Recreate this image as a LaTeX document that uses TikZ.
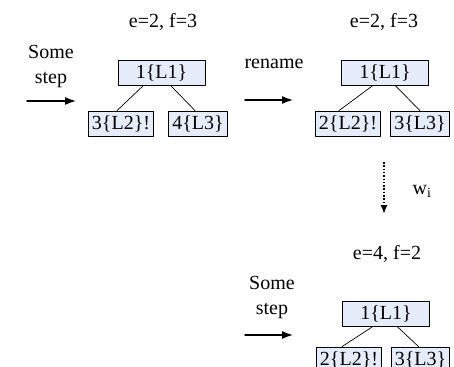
\documentclass[tikz,border=0pt]{standalone}
\usepackage{fontspec}
\setmainfont{Liberation Serif}
\usetikzlibrary{arrows.meta}
\definecolor{boxfill}{RGB}{230,236,249}
\begin{document}
\begin{tikzpicture}[x=1pt,y=-1pt,line cap=round,line join=round,
  font=\fontsize{20}{25}\selectfont,
  root/.style={draw,fill=boxfill,line width=0.8pt,minimum width=87pt,minimum height=25pt,inner sep=0pt},
  leaf/.style={draw,fill=boxfill,line width=0.8pt,minimum height=25pt,inner xsep=3.5pt,inner ysep=0pt},
  edge/.style={line width=0.7pt},
  stepto/.style={line width=1.5pt,-{Latex[length=11pt,width=8pt]}}]
  \useasboundingbox (0,0) rectangle (454,366);
  % first tree
  \node (t1) at (163,22) {e=2, f=3};
  \node[root] (r1) at (161.5,72.5) {1\{L1\}};
  \node[leaf] (a1) at (121,123.5) {3\{L2\}!};
  \node[leaf] (b1) at (198,123.5) {4\{L3\}};
  \draw[edge] ([xshift=-18pt]r1.south) -- ([xshift=-4pt]a1.north);
  \draw[edge] ([xshift=9pt]r1.south) -- ([xshift=-3pt]b1.north);
  \node[align=center] (s1) at (51,67) {Some\\step};
  \coordinate (p1) at (27,101);
  \coordinate (q1) at (76,101);
  \draw[stepto] (p1) -- (q1);
  % after renaming
  \node (t2) at (384,22) {e=2, f=3};
  \node[root] (r2) at (385,72.5) {1\{L1\}};
  \node[leaf] (a2) at (348,123.5) {2\{L2\}!};
  \node[leaf] (b2) at (420,123.5) {3\{L3\}};
  \draw[edge] ([xshift=-12pt]r2.south) -- ([xshift=-9pt]a2.north);
  \draw[edge] ([xshift=10pt]r2.south) -- (b2.north);
  \node (s2) at (274,64) {rename};
  \coordinate (p2) at (245,100);
  \coordinate (q2) at (293,100);
  \draw[stepto] (p2) -- (q2);
  % w_i
  \coordinate (p3) at (384,162);
  \coordinate (q3) at (384,214);
  \draw[line width=1.5pt,line cap=butt,dash pattern=on 1.5pt off 1.8pt,
    -{Latex[length=9pt,width=7pt]}] (p3) -- (q3);
  \node (w) at (422,191) {w\textsubscript{i}};
  % last tree
  \node (t3) at (387,254) {e=4, f=2};
  \node[root] (r3) at (386,313.5) {1\{L1\}};
  \node[leaf] (a3) at (349,359.5) {2\{L2\}!};
  \node[leaf] (b3) at (420.5,359.5) {3\{L3\}};
  \draw[edge] ([xshift=-13pt]r3.south) -- ([xshift=-7pt]a3.north);
  \draw[edge] ([xshift=11pt]r3.south) -- ([xshift=-2pt]b3.north);
  \node[align=center] (s3) at (272,298) {Some\\step};
  \coordinate (p4) at (245,335);
  \coordinate (q4) at (293,335);
  \draw[stepto] (p4) -- (q4);
\end{tikzpicture}
\end{document}
